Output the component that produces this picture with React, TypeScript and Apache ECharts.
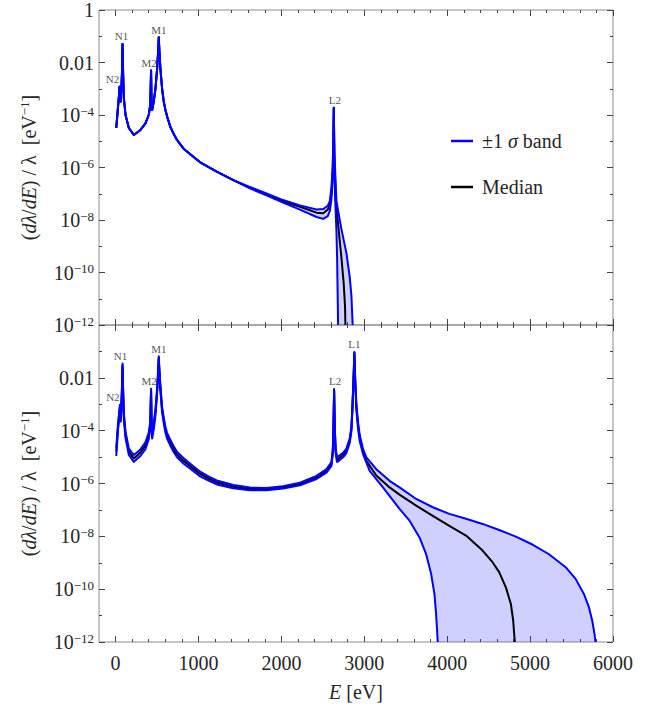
import React, { useEffect, useRef } from 'react';
import * as echarts from 'echarts';

// ---------- tick values ----------
const X_MAJOR_TICKS = [0, 1000, 2000, 3000, 4000, 5000, 6000];
const X_MINOR_TICKS = [200, 400, 600, 800, 1200, 1400, 1600, 1800, 2200, 2400, 2600, 2800, 3200, 3400, 3600, 3800, 4200, 4400, 4600, 4800, 5200, 5400, 5600, 5800];
const Y_MAJOR_TICKS = [1e-12, 1e-10, 1e-8, 1e-6, 1e-4, 1e-2, 1];
const Y_MINOR_TICKS = [1e-11, 1e-9, 1e-7, 1e-5, 1e-3, 1e-1];
const Y_LABELS_TOP = [1e-12, 1e-10, 1e-8, 1e-6, 1e-4, 1e-2, 1];
const Y_LABELS_BOTTOM = [1e-12, 1e-10, 1e-8, 1e-6, 1e-4, 1e-2];

// ---------- top panel: [E (eV), dλ/dE / λ (eV^-1)] ----------
// part where band and median coincide
const TOP_COMMON: [number, number][] = [
  [8, 3.2e-5], [28, 1.8e-4], [40, 5.0e-4], [48, 1.2e-3], [54, 5.0e-4], [60, 3.2e-4],
  [70, 1.0e-3], [77, 4.0e-3], [81, 1.5e-2], [84, 5.1e-2], [87, 1.5e-2], [91, 4.0e-3],
  [100, 4.3e-4], [120, 1.0e-4], [160, 3.2e-5], [220, 1.74e-5], [300, 2.7e-5], [360, 4.8e-5],
  [400, 1.0e-4], [418, 2.4e-4], [428, 5.0e-3], [434, 3.0e-4], [441, 1.55e-4], [460, 3.2e-4],
  [481, 1.0e-3], [501, 5.75e-3], [513, 2.5e-2], [521, 9.1e-2], [529, 2.5e-2], [541, 5.75e-3],
  [561, 1.0e-3], [581, 3.2e-4], [601, 1.6e-4], [621, 8.9e-5], [661, 3.5e-5], [701, 1.9e-5],
  [741, 1.12e-5], [781, 7.6e-6], [821, 5.2e-6], [901, 3.2e-6], [1020, 1.58e-6], [1220, 6.9e-7],
  [1420, 3.3e-7],
];
const TOP_MEDIAN_TAIL: [number, number][] = [
  [1620, 1.74e-7], [1820, 9.5e-8], [2020, 5.2e-8], [2224, 3.2e-8], [2424, 1.9e-8], [2504, 1.8e-8],
  [2560, 2.5e-8], [2584, 3.8e-8], [2604, 1.0e-7], [2618, 5.0e-7], [2626, 5.0e-6], [2632, 1.9e-4],
  [2640, 2.0e-6], [2656, 5.2e-8], [2684, 6.9e-9], [2724, 3.8e-10], [2752, 3.7e-11], [2768, 4.9e-12],
  [2772, 1e-12],
];
const TOP_UPPER_TAIL: [number, number][] = [
  [1620, 1.8e-7], [1820, 1.02e-7], [2020, 5.75e-8], [2224, 3.6e-8], [2424, 2.5e-8], [2504, 2.6e-8],
  [2560, 3.5e-8], [2584, 5.2e-8], [2604, 1.8e-7], [2618, 1.0e-6], [2626, 8.0e-6], [2632, 1.9e-4],
  [2640, 3.5e-6], [2664, 5.2e-8], [2724, 4.5e-9], [2784, 5.6e-10], [2824, 7.0e-11], [2845, 1.26e-11],
  [2860, 1e-12],
];
const TOP_LOWER_TAIL: [number, number][] = [
  [1620, 1.6e-7], [1820, 8.7e-8], [2020, 4.6e-8], [2224, 2.5e-8], [2424, 1.3e-8], [2504, 1.1e-8],
  [2560, 1.4e-8], [2584, 2.2e-8], [2604, 6.3e-8], [2618, 3.2e-7], [2626, 3.2e-6], [2632, 1.9e-4],
  [2638, 1.5e-6], [2648, 7.1e-8], [2664, 3.9e-9], [2672, 3.8e-10], [2678, 2.1e-11], [2684, 1e-12],
];

// ---------- bottom panel ----------
const BOT_MEDIAN: [number, number][] = [
  [8, 1.6e-5], [30, 1.5e-4], [44, 4.0e-4], [52, 7.6e-4], [56, 4.0e-4], [62, 3.0e-4],
  [72, 1.2e-3], [78, 4.5e-3], [81, 1.0e-2], [84, 3.0e-2], [87, 1.0e-2], [91, 3.0e-3],
  [100, 3.5e-4], [120, 7.0e-5], [160, 1.6e-5], [220, 8.9e-6], [300, 1.5e-5], [360, 2.7e-5],
  [400, 6.5e-5], [418, 1.6e-4], [428, 3.4e-3], [434, 2.0e-4], [441, 6.8e-5], [460, 1.5e-4],
  [481, 5.0e-4], [501, 3.2e-3], [513, 1.6e-2], [521, 5.9e-2], [529, 1.6e-2], [541, 4.0e-3],
  [561, 6.3e-4], [581, 2.5e-4], [601, 1.1e-4], [621, 6.5e-5], [661, 3.5e-5], [701, 2.0e-5],
  [741, 1.26e-5], [781, 9.5e-6], [821, 7.2e-6], [901, 4.5e-6], [1020, 2.3e-6], [1120, 1.55e-6],
  [1220, 1.1e-6], [1420, 7.6e-7], [1620, 6.2e-7], [1820, 6.2e-7], [2020, 7.1e-7], [2224, 9.5e-7],
  [2424, 1.7e-6], [2544, 3.0e-6], [2604, 5.5e-6], [2620, 1.6e-5], [2628, 1.2e-4], [2636, 3.4e-3],
  [2644, 1.2e-4], [2654, 1.8e-5], [2670, 8.5e-6], [2684, 8.5e-6], [2744, 1.2e-5], [2784, 1.74e-5],
  [2824, 4.2e-5], [2845, 1.2e-4], [2857, 7.6e-4], [2868, 6.0e-3], [2874, 2.0e-2], [2880, 9.1e-2],
  [2886, 2.0e-2], [2892, 6.0e-3], [2905, 7.6e-4], [2925, 1.6e-4], [2945, 5.6e-5], [2985, 1.6e-5],
  [3025, 7.2e-6], [3145, 2.0e-6], [3305, 7.1e-7], [3425, 3.8e-7], [3626, 1.45e-7], [3826, 6.0e-8],
  [4026, 2.5e-8], [4227, 1.07e-8], [4427, 2.9e-9], [4547, 1.05e-9], [4627, 4.4e-10], [4708, 1.17e-10],
  [4768, 2.75e-11], [4796, 6.5e-12], [4808, 2.0e-12], [4816, 1e-12],
];
const BOT_UPPER: [number, number][] = [
  [8, 2.3e-5], [30, 2.0e-4], [44, 5.2e-4], [52, 9.5e-4], [56, 5.2e-4], [62, 4.0e-4],
  [72, 1.6e-3], [78, 5.8e-3], [81, 1.3e-2], [84, 3.5e-2], [87, 1.3e-2], [91, 3.9e-3],
  [100, 4.6e-4], [120, 9.2e-5], [160, 2.1e-5], [220, 1.2e-5], [300, 1.95e-5], [360, 3.6e-5],
  [400, 8.4e-5], [418, 2.1e-4], [428, 3.9e-3], [434, 2.6e-4], [441, 8.8e-5], [460, 1.95e-4],
  [481, 6.5e-4], [501, 4.0e-3], [513, 1.9e-2], [521, 6.6e-2], [529, 1.9e-2], [541, 5.0e-3],
  [561, 8.0e-4], [581, 3.2e-4], [601, 1.4e-4], [621, 8.3e-5], [661, 4.5e-5], [701, 2.55e-5],
  [741, 1.6e-5], [781, 1.2e-5], [821, 9.1e-6], [901, 5.6e-6], [1020, 2.8e-6], [1120, 1.85e-6],
  [1220, 1.3e-6], [1420, 8.8e-7], [1620, 7.0e-7], [1820, 6.8e-7], [2020, 7.8e-7], [2224, 1.07e-6],
  [2424, 1.95e-6], [2544, 3.5e-6], [2604, 6.5e-6], [2620, 1.9e-5], [2628, 1.4e-4], [2636, 3.8e-3],
  [2644, 1.4e-4], [2654, 2.2e-5], [2670, 1.05e-5], [2684, 1.05e-5], [2744, 1.45e-5], [2784, 2.1e-5],
  [2824, 5.0e-5], [2845, 1.45e-4], [2857, 9.0e-4], [2868, 7.0e-3], [2874, 2.3e-2], [2880, 9.6e-2],
  [2886, 2.3e-2], [2892, 7.0e-3], [2905, 9.2e-4], [2925, 2.0e-4], [2945, 6.8e-5], [2985, 2.0e-5],
  [3025, 9.8e-6], [3145, 3.5e-6], [3305, 1.26e-6], [3425, 7.1e-7], [3626, 2.6e-7], [3826, 1.26e-7],
  [4026, 7.1e-8], [4227, 4.6e-8], [4427, 2.95e-8], [4627, 1.74e-8], [4828, 9.8e-9], [5028, 4.9e-9],
  [5228, 2.1e-9], [5429, 6.8e-10], [5549, 2.45e-10], [5649, 6.6e-11], [5709, 2.1e-11], [5749, 6.5e-12],
  [5777, 2.0e-12], [5789, 1e-12],
];
const BOT_LOWER: [number, number][] = [
  [8, 1.1e-5], [30, 1.1e-4], [44, 3.0e-4], [52, 6.0e-4], [56, 3.0e-4], [62, 2.2e-4],
  [72, 9.0e-4], [78, 3.5e-3], [81, 7.8e-3], [84, 2.5e-2], [87, 7.8e-3], [91, 2.3e-3],
  [100, 2.6e-4], [120, 5.2e-5], [160, 1.2e-5], [220, 6.6e-6], [300, 1.1e-5], [360, 2.0e-5],
  [400, 4.8e-5], [418, 1.2e-4], [428, 2.9e-3], [434, 1.5e-4], [441, 5.0e-5], [460, 1.1e-4],
  [481, 3.8e-4], [501, 2.5e-3], [513, 1.3e-2], [521, 5.2e-2], [529, 1.3e-2], [541, 3.1e-3],
  [561, 4.9e-4], [581, 1.95e-4], [601, 8.5e-5], [621, 5.0e-5], [661, 2.7e-5], [701, 1.55e-5],
  [741, 9.8e-6], [781, 7.4e-6], [821, 5.6e-6], [901, 3.6e-6], [1020, 1.85e-6], [1120, 1.3e-6],
  [1220, 9.2e-7], [1420, 6.6e-7], [1620, 5.5e-7], [1820, 5.6e-7], [2020, 6.4e-7], [2224, 8.5e-7],
  [2424, 1.48e-6], [2544, 2.55e-6], [2604, 4.6e-6], [2620, 1.3e-5], [2628, 1.0e-4], [2636, 3.0e-3],
  [2644, 1.0e-4], [2654, 1.45e-5], [2670, 6.6e-6], [2684, 6.8e-6], [2744, 9.8e-6], [2784, 1.42e-5],
  [2824, 3.4e-5], [2845, 9.8e-5], [2857, 6.2e-4], [2868, 5.0e-3], [2874, 1.7e-2], [2880, 8.5e-2],
  [2886, 1.7e-2], [2892, 5.0e-3], [2905, 6.0e-4], [2925, 1.2e-4], [2945, 4.0e-5], [2985, 1.3e-5],
  [3065, 3.0e-6], [3225, 7.1e-7], [3425, 1.1e-7], [3546, 3.9e-8], [3666, 9.1e-9], [3746, 2.1e-9],
  [3806, 3.8e-10], [3846, 6.6e-11], [3866, 1.17e-11], [3878, 2.75e-12], [3886, 1e-12],
];

// ---------- peak labels ----------
const TOP_PEAK_NAMES = ['N2', 'N1', 'M2', 'M1', 'L2'];
const TOP_PEAK_E = [48, 84, 428, 521, 2632];
const TOP_PEAK_V = [1.2e-3, 5.1e-2, 5.0e-3, 9.1e-2, 1.9e-4];
const BOT_PEAK_NAMES = ['N2', 'N1', 'M2', 'M1', 'L2', 'L1'];
const BOT_PEAK_E = [52, 84, 428, 521, 2636, 2880];
const BOT_PEAK_V = [9.5e-4, 3.5e-2, 3.9e-3, 6.6e-2, 3.8e-3, 9.6e-2];

const BAND_NAME = '±1 σ band';
const MEDIAN_NAME = 'Median';

const FONT = "'Liberation Serif', 'DejaVu Serif', serif";
const TEXT = '#262626';
const BLUE = '#0000ff';
const FILL = 'rgba(40, 40, 255, 0.22)';
const FRAME = '#8c8c8c';
const TICK = '#444444';

const supStyle = { fontSize: 13, fontFamily: FONT, color: TEXT, padding: [0, 0, 8, 0] };
const baseStyle = { fontSize: 20, fontFamily: FONT, color: TEXT };
const italStyle = { fontSize: 20, fontFamily: FONT, color: TEXT, fontStyle: 'italic' };

const fmtY = (v: number) => {
  const e = Math.round(Math.log10(v));
  if (e === 0) return '{b|1}';
  if (e === -2) return '{b|0.01}';
  return `{b|10}{s|−${-e}}`;
};

function makeX(gridIndex: number, position: string, ticks: number[], len: number, labels: boolean) {
  const ax: any = {
    type: 'value', gridIndex, position, min: -200, max: 6000,
    axisLine: { show: false, onZero: false }, splitLine: { show: false },
    axisTick: { show: true, inside: true, length: len, customValues: ticks, lineStyle: { color: TICK, width: 1 } },
    axisLabel: labels
      ? {
          show: true, customValues: X_MAJOR_TICKS, margin: 11, fontSize: 20, fontFamily: FONT, color: TEXT,
          formatter: (v: number) => String(v),
        }
      : { show: false },
  };
  if (labels) {
    ax.name = '{i|E} [eV]';
    ax.nameLocation = 'middle';
    ax.nameGap = 40;
    ax.nameTextStyle = { ...baseStyle, rich: { i: italStyle } };
  }
  return ax;
}

function makeY(gridIndex: number, position: string, ticks: number[], len: number, labels: number[] | null) {
  const ax: any = {
    type: 'log', logBase: 10, gridIndex, position, min: 1e-12, max: 1,
    axisLine: { show: false, onZero: false }, splitLine: { show: false }, minorTick: { show: false },
    axisTick: { show: true, inside: true, length: len, customValues: ticks, lineStyle: { color: TICK, width: 1 } },
    axisLabel: labels
      ? { show: true, customValues: labels, formatter: fmtY, margin: 5, rich: { b: baseStyle, s: supStyle } }
      : { show: false },
  };
  if (labels) {
    ax.name = '({i|dλ}/{i|dE}) / λ  [eV{s|−1}]';
    ax.nameLocation = 'middle';
    ax.nameRotate = 90;
    ax.nameGap = 60;
    ax.nameTextStyle = { ...baseStyle, rich: { i: italStyle, s: supStyle } };
  }
  return ax;
}

function bandSeries(upper: [number, number][], lower: [number, number][], xi: number, yi: number) {
  return {
    type: 'custom', name: 'band fill', xAxisIndex: xi, yAxisIndex: yi, silent: true, z: 1, clip: true,
    data: [[upper[0][0], upper[0][1]]],
    renderItem: (_params: any, api: any) => {
      const pts = upper.map((p) => api.coord(p)).concat(lower.slice().reverse().map((p) => api.coord(p)));
      return { type: 'polygon', shape: { points: pts }, style: { fill: FILL, stroke: null } };
    },
  };
}

function lineSeries(name: string, data: [number, number][], color: string, xi: number, yi: number, z: number) {
  return {
    type: 'line', name, data, xAxisIndex: xi, yAxisIndex: yi, z,
    showSymbol: false, symbol: 'none', silent: true, color,
    itemStyle: { color },
    lineStyle: { color, width: 2, join: 'round' },
  };
}

function labelSeries(names: string[], es: number[], vs: number[], xi: number, yi: number, offsets: number[]) {
  return {
    type: 'scatter', name: 'peak labels', xAxisIndex: xi, yAxisIndex: yi, z: 6, silent: true,
    symbolSize: 0,
    data: names.map((n, i) => ({ name: n, value: [es[i], vs[i]], label: { offset: [offsets[i], 0] } })),
    label: { show: true, position: 'top', distance: 2, formatter: '{b}', fontSize: 11, fontFamily: FONT, color: TEXT },
  };
}

export default function App() {
  const ref = useRef<HTMLDivElement>(null);
  useEffect(() => {
    if (!ref.current) return;
    const chart = echarts.init(ref.current, null, { renderer: 'svg' });
    const topUpper = TOP_COMMON.concat(TOP_UPPER_TAIL);
    const topLower = TOP_COMMON.concat(TOP_LOWER_TAIL);
    const topMedian = TOP_COMMON.concat(TOP_MEDIAN_TAIL);
    chart.setOption({
      animation: false,
      backgroundColor: '#ffffff',
      grid: [
        { left: 99, top: 7, width: 514, height: 318, show: true, borderColor: FRAME, borderWidth: 1, backgroundColor: 'transparent' },
        { left: 99, top: 325, width: 514, height: 317, show: true, borderColor: FRAME, borderWidth: 1, backgroundColor: 'transparent' },
      ],
      legend: {
        data: [{ name: BAND_NAME, icon: 'rect' }, { name: MEDIAN_NAME, icon: 'rect' }],
        orient: 'vertical', left: 446, top: 126, itemWidth: 22, itemHeight: 2.5, itemGap: 26,
        selectedMode: false,
        formatter: (n: string) => (n === BAND_NAME ? '±1 {i|σ} band' : n),
        textStyle: { ...baseStyle, padding: [0, 0, 0, 4], rich: { i: italStyle } },
      },
      xAxis: [
        makeX(0, 'bottom', X_MAJOR_TICKS, 6, false),
        makeX(0, 'bottom', X_MINOR_TICKS, 3, false),
        makeX(0, 'top', X_MAJOR_TICKS, 6, false),
        makeX(0, 'top', X_MINOR_TICKS, 3, false),
        makeX(1, 'bottom', X_MAJOR_TICKS, 6, true),
        makeX(1, 'bottom', X_MINOR_TICKS, 3, false),
        makeX(1, 'top', X_MAJOR_TICKS, 6, false),
        makeX(1, 'top', X_MINOR_TICKS, 3, false),
      ],
      yAxis: [
        makeY(0, 'left', Y_MAJOR_TICKS, 6, Y_LABELS_TOP),
        makeY(0, 'left', Y_MINOR_TICKS, 3, null),
        makeY(0, 'right', Y_MAJOR_TICKS, 6, null),
        makeY(0, 'right', Y_MINOR_TICKS, 3, null),
        makeY(1, 'left', Y_MAJOR_TICKS, 6, Y_LABELS_BOTTOM),
        makeY(1, 'left', Y_MINOR_TICKS, 3, null),
        makeY(1, 'right', Y_MAJOR_TICKS, 6, null),
        makeY(1, 'right', Y_MINOR_TICKS, 3, null),
      ],
      series: [
        bandSeries(topUpper, topLower, 0, 0),
        lineSeries(MEDIAN_NAME, topMedian, '#000000', 0, 0, 2),
        lineSeries(BAND_NAME, topUpper, BLUE, 0, 0, 3),
        lineSeries(BAND_NAME, topLower, BLUE, 0, 0, 3),
        labelSeries(TOP_PEAK_NAMES, TOP_PEAK_E, TOP_PEAK_V, 0, 0, [-7, -1, -2, 0, 1]),
        bandSeries(BOT_UPPER, BOT_LOWER, 4, 4),
        lineSeries(MEDIAN_NAME, BOT_MEDIAN, '#000000', 4, 4, 2),
        lineSeries(BAND_NAME, BOT_UPPER, BLUE, 4, 4, 3),
        lineSeries(BAND_NAME, BOT_LOWER, BLUE, 4, 4, 3),
        labelSeries(BOT_PEAK_NAMES, BOT_PEAK_E, BOT_PEAK_V, 4, 4, [-7, -2, -2, 0, 1, 0]),
      ],
    });
    return () => chart.dispose();
  }, []);
  return <div ref={ref} style={{ position: 'absolute', left: 0, top: 0, width: 657, height: 713 }} />;
}
